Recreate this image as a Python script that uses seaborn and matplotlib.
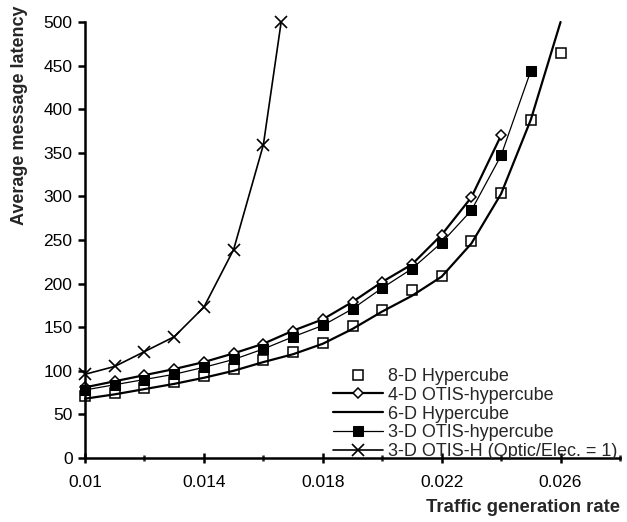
import matplotlib
matplotlib.use("Agg")
import matplotlib.pyplot as plt
from matplotlib.ticker import FixedLocator
import seaborn as sns
import pandas as pd

# Traffic generation rates (messages/cycle) and average latencies per network
rates = [0.010, 0.011, 0.012, 0.013, 0.014, 0.015, 0.016, 0.017, 0.018,
         0.019, 0.020, 0.021, 0.022, 0.023, 0.024, 0.025, 0.026]
hc8_latency = [71, 75, 80, 87, 94, 102, 112, 121, 132, 151, 170, 193, 209,
               249, 304, 388, 464]
hc6_latency = [68, 73, 79, 85, 92, 100, 110, 119, 131, 148, 168, 186, 208,
               246, 303, 388, 500]
otis4_rates = rates[:15]
otis4_latency = [81, 88, 95, 102, 110, 120, 131, 146, 159, 179, 202, 222,
                 256, 299, 370]
otis3_rates = rates[:16]
otis3_latency = [78, 84, 90, 96, 104, 113, 125, 139, 152, 171, 195, 217,
                 247, 284, 347, 444]
otish_rates = [0.010, 0.011, 0.012, 0.013, 0.014, 0.015, 0.016, 0.0166]
otish_latency = [96, 105, 122, 139, 173, 239, 359, 500]

labels = ["8-D Hypercube", "4-D OTIS-hypercube", "6-D Hypercube",
          "3-D OTIS-hypercube", "3-D OTIS-H (Optic/Elec. = 1)"]

x_major = [0.010, 0.014, 0.018, 0.022, 0.026]
x_major_labels = ["0.01", "0.014", "0.018", "0.022", "0.026"]
x_minor = [0.012, 0.016, 0.020, 0.024, 0.028]
y_ticks = [0, 50, 100, 150, 200, 250, 300, 350, 400, 450, 500]

sns.set_style("white")
plt.rcParams["font.family"] = ["Liberation Sans", "DejaVu Sans"]

fig = plt.figure(figsize=(6.27, 5.22), dpi=100)
ax = fig.add_axes([85 / 627, (522 - 458) / 522, 535 / 627, 436 / 522])

d_hc8 = pd.DataFrame({"rate": rates, "latency": hc8_latency})
d_hc6 = pd.DataFrame({"rate": rates, "latency": hc6_latency})
d_o4 = pd.DataFrame({"rate": otis4_rates, "latency": otis4_latency})
d_o3 = pd.DataFrame({"rate": otis3_rates, "latency": otis3_latency})
d_oh = pd.DataFrame({"rate": otish_rates, "latency": otish_latency})

common = dict(x="rate", y="latency", ax=ax, color="black", clip_on=False,
              markeredgecolor="black")

sns.lineplot(data=d_hc8, linestyle="", marker="s", markersize=6.5,
             markerfacecolor="white", markeredgewidth=1.1,
             label=labels[0], **common)
sns.lineplot(data=d_o4, linewidth=1.6, marker="D", markersize=5.5,
             markerfacecolor="white", markeredgewidth=1.1,
             label=labels[1], **common)
sns.lineplot(data=d_hc6, linewidth=1.6, label=labels[2], **common)
sns.lineplot(data=d_o3, linewidth=0.9, marker="s", markersize=6.5,
             markerfacecolor="black", label=labels[3], **common)
sns.lineplot(data=d_oh, linewidth=1.2, marker="x", markersize=9,
             markeredgewidth=1.2, label=labels[4], **common)

ax.set_xlim(0.010, 0.028)
ax.set_ylim(0, 500)

for side in ("top", "right"):
    ax.spines[side].set_visible(False)
for side in ("left", "bottom"):
    ax.spines[side].set_linewidth(1.8)
    ax.spines[side].set_color("black")

ax.xaxis.set_major_locator(FixedLocator(x_major))
ax.set_xticklabels(x_major_labels)
ax.xaxis.set_minor_locator(FixedLocator(x_minor))
ax.yaxis.set_major_locator(FixedLocator(y_ticks))
ax.tick_params(axis="x", which="major", direction="inout", length=7,
               width=1.8, labelsize=12.5, pad=8.5, colors="black")
ax.tick_params(axis="x", which="minor", direction="inout", length=4,
               width=1.8)
ax.tick_params(axis="y", which="major", direction="out", length=5,
               width=1.8, labelsize=12.5, pad=4, colors="black")
ax.tick_params(bottom=True, left=True, which="both")

ax.set_xlabel("Traffic generation rate", fontsize=13.3, fontweight="bold",
              loc="right")
ax.xaxis.set_label_coords(1.0, -0.095)
ax.set_ylabel("Average message latency", fontsize=13, fontweight="bold")
ax.yaxis.set_label_coords(-0.1065, 0.787)

ax.legend(loc="lower left", bbox_to_anchor=(0.463, -0.005), frameon=False,
          fontsize=13, handlelength=2.8, handletextpad=0.25,
          labelspacing=0.1, borderpad=0.0, borderaxespad=0)

fig.savefig("out.png", dpi=100)
